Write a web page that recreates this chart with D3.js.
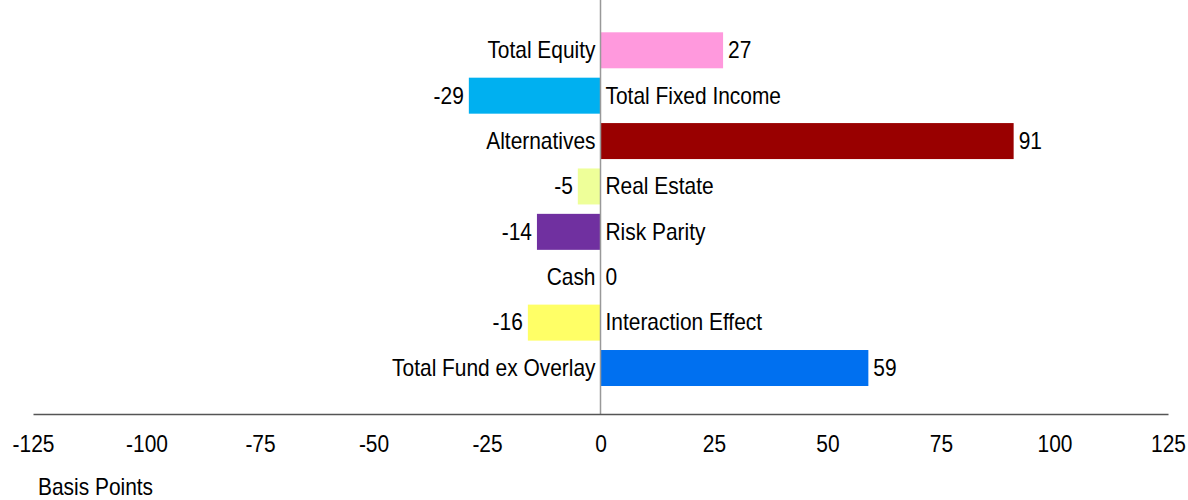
<!DOCTYPE html>
<html><head><meta charset="utf-8">
<script src="https://cdn.jsdelivr.net/npm/d3@7"></script>
<style>body{margin:0;background:#fff;} text{font-family:"Liberation Sans",Arial,sans-serif;fill:#000;}</style>
</head><body>
<svg id="c" width="1188" height="500"></svg>
<script>
const categories = ["Total Equity","Total Fixed Income","Alternatives","Real Estate","Risk Parity","Cash","Interaction Effect","Total Fund ex Overlay"];
const values = [27,-29,91,-5,-14,0,-16,59];
const colors = ["#FF99DD","#00B0F0","#990000","#EEFF99","#7030A0","#FFFFFF","#FFFF66","#0070F0"];
const tickValues = [-125,-100,-75,-50,-25,0,25,50,75,100,125];
const axisTitle = "Basis Points";

const fmt = v => String(v);
const svg = d3.select("#c");
const FS = 23, SX = 0.91;
const x = d3.scaleLinear().domain([-125,125]).range([33,1168]);
const y = d3.scaleBand().domain(categories).range([27.6,390.7]).paddingInner(0.207).paddingOuter(0.1035);

function label(g, tx, ty, txt, anchor){
  g.append("text").attr("transform",`translate(${tx},${ty}) scale(${SX},1)`)
   .attr("text-anchor",anchor).attr("dominant-baseline","central")
   .style("font-size",FS+"px").text(txt);
}

const data = categories.map((c,i)=>({c, v:values[i], col:colors[i]}));
svg.append("g").selectAll("rect").data(data.filter(d=>d.v!==0)).join("rect")
  .attr("x",d=>x(Math.min(0,d.v))).attr("width",d=>Math.abs(x(d.v)-x(0)))
  .attr("y",d=>y(d.c)).attr("height",y.bandwidth()).attr("fill",d=>d.col);

svg.append("line").attr("x1",x(0)).attr("x2",x(0)).attr("y1",0).attr("y2",414)
  .attr("stroke","#999").attr("stroke-width",1.5);

const ax = svg.append("g").attr("transform","translate(0,414)")
  .call(d3.axisBottom(x).tickValues(tickValues).tickSize(0).tickPadding(0).tickFormat(fmt));
ax.select(".domain").attr("stroke","#555").attr("stroke-width",1.5);
ax.selectAll(".tick text").remove();
ax.selectAll(".tick").each(function(d){ label(d3.select(this), 0, 30, fmt(d), "middle"); });

const lg = svg.append("g");
data.forEach(d=>{
  const cy = y(d.c)+y.bandwidth()/2;
  if(d.v>=0){
    label(lg, x(0)-5, cy, d.c, "end");
    label(lg, x(d.v)+5, cy, fmt(d.v), "start");
  } else {
    label(lg, x(0)+5, cy, d.c, "start");
    label(lg, x(d.v)-5, cy, fmt(d.v), "end");
  }
});
label(svg, 38, 487, axisTitle, "start");
</script>
</body></html>
